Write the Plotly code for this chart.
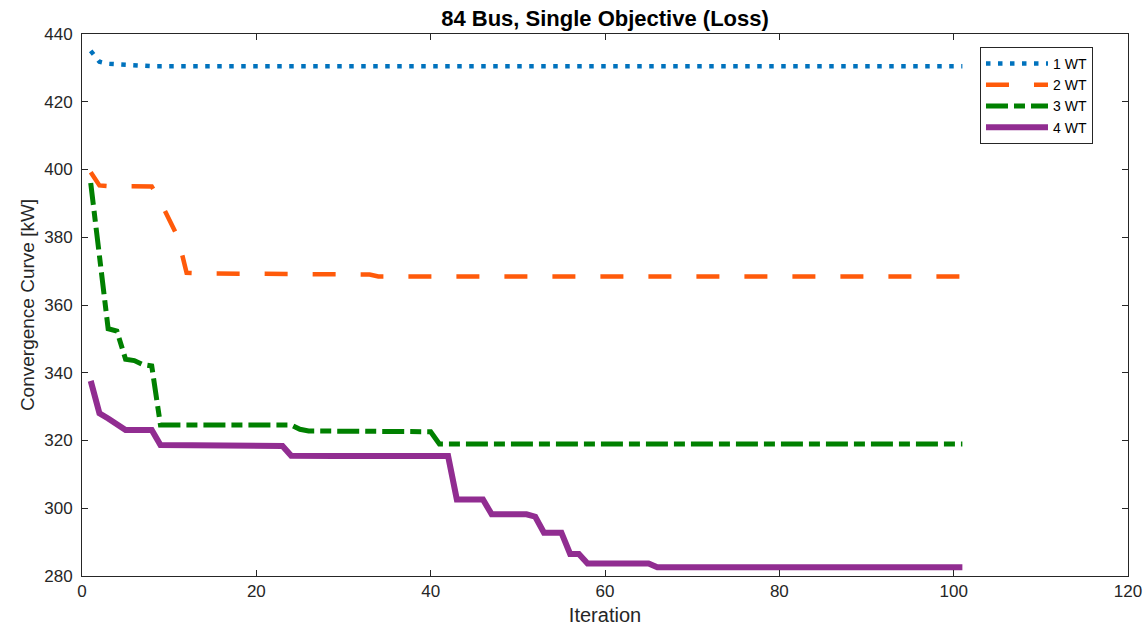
import plotly.graph_objects as go

iterations = list(range(1, 102))

wt1 = [435.0, 431.8, 431.2, 431.0, 430.8, 430.6, 430.5, 430.5, 430.5, 430.5,
       430.5, 430.5, 430.5, 430.5, 430.5, 430.5, 430.5, 430.5, 430.5, 430.5,
       430.5, 430.5, 430.5, 430.5, 430.5, 430.5, 430.5, 430.5, 430.5, 430.5,
       430.5, 430.5, 430.5, 430.5, 430.5, 430.5, 430.5, 430.5, 430.5, 430.5,
       430.5, 430.5, 430.5, 430.5, 430.5, 430.5, 430.5, 430.5, 430.5, 430.5,
       430.5, 430.5, 430.5, 430.5, 430.5, 430.5, 430.5, 430.5, 430.5, 430.5,
       430.5, 430.5, 430.5, 430.5, 430.5, 430.5, 430.5, 430.5, 430.5, 430.5,
       430.5, 430.5, 430.5, 430.5, 430.5, 430.5, 430.5, 430.5, 430.5, 430.5,
       430.5, 430.5, 430.5, 430.5, 430.5, 430.5, 430.5, 430.5, 430.5, 430.5,
       430.5, 430.5, 430.5, 430.5, 430.5, 430.5, 430.5, 430.5, 430.5, 430.5,
       430.5]

wt2 = [399.2, 395.3, 395.1, 395.1, 395.1, 395.1, 395.1, 395.0, 390.5, 385.0,
       380.0, 369.5, 369.3, 369.3, 369.3, 369.3, 369.3, 369.3, 369.3, 369.3,
       369.3, 369.3, 369.3, 369.3, 369.3, 369.0, 369.0, 369.0, 369.0, 369.0,
       369.0, 369.0, 369.0, 368.4, 368.4, 368.4, 368.4, 368.4, 368.4, 368.4,
       368.4, 368.4, 368.4, 368.4, 368.4, 368.4, 368.4, 368.4, 368.4, 368.4,
       368.4, 368.4, 368.4, 368.4, 368.4, 368.4, 368.4, 368.4, 368.4, 368.4,
       368.4, 368.4, 368.4, 368.4, 368.4, 368.4, 368.4, 368.4, 368.4, 368.4,
       368.4, 368.4, 368.4, 368.4, 368.4, 368.4, 368.4, 368.4, 368.4, 368.4,
       368.4, 368.4, 368.4, 368.4, 368.4, 368.4, 368.4, 368.4, 368.4, 368.4,
       368.4, 368.4, 368.4, 368.4, 368.4, 368.4, 368.4, 368.4, 368.4, 368.4,
       368.4]

wt3 = [396.0, 374.5, 353.0, 352.3, 344.0, 343.6, 342.4, 342.0, 324.6, 324.6,
       324.6, 324.6, 324.6, 324.6, 324.6, 324.6, 324.6, 324.6, 324.6, 324.6,
       324.6, 324.6, 324.6, 324.6, 323.3, 322.8, 322.8, 322.8, 322.8, 322.8,
       322.8, 322.8, 322.8, 322.8, 322.8, 322.8, 322.8, 322.8, 322.8, 322.6,
       319.0, 319.0, 319.0, 319.0, 319.0, 319.0, 319.0, 319.0, 319.0, 319.0,
       319.0, 319.0, 319.0, 319.0, 319.0, 319.0, 319.0, 319.0, 319.0, 319.0,
       319.0, 319.0, 319.0, 319.0, 319.0, 319.0, 319.0, 319.0, 319.0, 319.0,
       319.0, 319.0, 319.0, 319.0, 319.0, 319.0, 319.0, 319.0, 319.0, 319.0,
       319.0, 319.0, 319.0, 319.0, 319.0, 319.0, 319.0, 319.0, 319.0, 319.0,
       319.0, 319.0, 319.0, 319.0, 319.0, 319.0, 319.0, 319.0, 319.0, 319.0,
       319.0]

wt4 = [337.6, 328.0, 326.5, 324.6, 323.1, 323.1, 323.1, 323.1, 318.7, 318.7,
       318.7, 318.7, 318.7, 318.7, 318.7, 318.7, 318.7, 318.7, 318.4, 318.4,
       318.4, 318.4, 318.4, 315.5, 315.4, 315.4, 315.4, 315.4, 315.4, 315.4,
       315.4, 315.4, 315.4, 315.4, 315.4, 315.4, 315.4, 315.4, 315.4, 315.4,
       315.4, 315.4, 302.6, 302.6, 302.6, 302.6, 298.2, 298.2, 298.2, 298.2,
       298.2, 297.5, 292.8, 292.8, 292.8, 286.5, 286.5, 283.7, 283.7, 283.7,
       283.7, 283.7, 283.7, 283.7, 283.7, 282.6, 282.6, 282.6, 282.6, 282.6,
       282.6, 282.6, 282.6, 282.6, 282.6, 282.6, 282.6, 282.6, 282.6, 282.6,
       282.6, 282.6, 282.6, 282.6, 282.6, 282.6, 282.6, 282.6, 282.6, 282.6,
       282.6, 282.6, 282.6, 282.6, 282.6, 282.6, 282.6, 282.6, 282.6, 282.6,
       282.6]

series_names = ["1 WT", "2 WT", "3 WT", "4 WT"]
series_values = [wt1, wt2, wt3, wt4]

x_ticks = [0, 20, 40, 60, 80, 100, 120]
y_ticks = [280, 300, 320, 340, 360, 380, 400, 420, 440]

styles = [
    dict(color="#0072BD", width=4.5, dash="4.5px,7.5px"),
    dict(color="#FF5A0A", width=4.5, dash="23px,25px"),
    dict(color="#008000", width=5, dash="22px,6px,11px,6px"),
    dict(color="#912D91", width=6, dash="solid"),
]

FONT = "Liberation Sans, Arial, Helvetica, sans-serif"
AXC = "#262626"

fig = go.Figure()
for name, vals, st in zip(series_names, series_values, styles):
    fig.add_trace(go.Scatter(x=iterations, y=vals, mode="lines", name=name,
                             line=st))

axis_common = dict(
    showgrid=False, zeroline=False, showline=True, linecolor=AXC, linewidth=1,
    mirror="ticks", ticks="inside", ticklen=6, tickcolor=AXC, tickwidth=1,
    tickfont=dict(family=FONT, size=17, color=AXC), automargin=False,
)

fig.update_layout(
    width=1147, height=626,
    margin=dict(l=82, r=19, t=34, b=50),
    paper_bgcolor="white", plot_bgcolor="white",
    font=dict(family=FONT, color=AXC),
    title=dict(text="<b>84 Bus, Single Objective (Loss)</b>",
               font=dict(family=FONT, size=22, color="#000000"),
               x=605 / 1147, xanchor="center", y=1 - 18 / 626, yanchor="middle"),
    xaxis=dict(range=[0, 120], tickvals=x_ticks,
               title=dict(text="Iteration", font=dict(family=FONT, size=20, color=AXC),
                          standoff=8),
               **axis_common),
    yaxis=dict(range=[280, 440], tickvals=y_ticks,
               title=dict(text="Convergence Curve [kW]",
                          font=dict(family=FONT, size=19, color=AXC), standoff=4),
               ticklabelstandoff=5,
               **axis_common),
    legend=dict(x=0.8585, xanchor="left", y=0.976, yanchor="top",
                bgcolor="white", bordercolor=AXC, borderwidth=1,
                font=dict(family=FONT, size=14, color="#000000"),
                itemwidth=62, tracegroupgap=0),
    showlegend=True,
)

fig.write_html("out.html", config={"displayModeBar": False},
               post_script="document.body.style.margin='0';")
